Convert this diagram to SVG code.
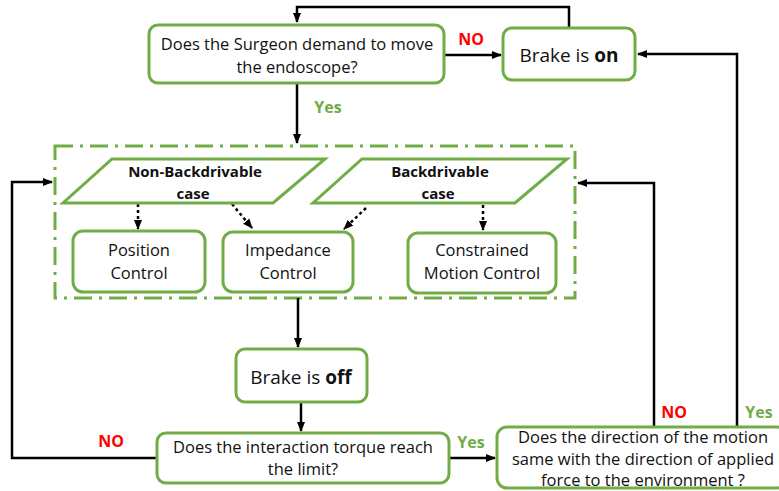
<svg xmlns="http://www.w3.org/2000/svg" width="779" height="491" viewBox="0 0 779 491">
<style>
.box{fill:#fff;stroke:#70AD47;stroke-width:3}
.par{fill:#fff;stroke:#70AD47;stroke-width:3}
.grp{fill:none;stroke:#70AD47;stroke-width:3;stroke-dasharray:18,7,3,7}
.t{font-family:"Open Sans","Liberation Sans",sans-serif;font-size:16.5px;fill:#111;text-anchor:middle}
.tb{font-family:"Open Sans","Liberation Sans",sans-serif;font-size:15px;font-weight:bold;fill:#111;text-anchor:middle}
.big{font-family:"Open Sans","Liberation Sans",sans-serif;font-size:19px;fill:#111;text-anchor:middle}
.no{font-family:"Open Sans","Liberation Sans",sans-serif;font-size:16px;font-weight:bold;fill:#FF0000;text-anchor:middle}
.yes{font-family:"Open Sans","Liberation Sans",sans-serif;font-size:16px;font-weight:bold;fill:#70AD47;text-anchor:middle}
.c{fill:none;stroke:#000;stroke-width:2.5}
.d{fill:none;stroke:#000;stroke-width:2.5;stroke-dasharray:3,3}
</style>
<defs>
<marker id="ah" markerWidth="10" markerHeight="10" refX="9" refY="5" orient="auto" markerUnits="userSpaceOnUse">
<path d="M0,1 L10,5 L0,9 Z" fill="#000"/>
</marker>
</defs>
<g id="group-box"><rect class="grp" x="55" y="146" width="520" height="152"/></g>
<g id="connectors">
<polyline class="c" points="569,28 569,7 297,7 297,22" marker-end="url(#ah)"/>
<line class="c" x1="444" y1="55" x2="501" y2="55" marker-end="url(#ah)"/>
<line class="c" x1="297" y1="83" x2="297" y2="143" marker-end="url(#ah)"/>
<line class="d" x1="138" y1="204" x2="138" y2="229" marker-end="url(#ah)"/>
<line class="d" x1="232" y1="204" x2="252" y2="228" marker-end="url(#ah)"/>
<line class="d" x1="366" y1="208" x2="344" y2="229" marker-end="url(#ah)"/>
<line class="d" x1="483" y1="205" x2="483" y2="230" marker-end="url(#ah)"/>
<line class="c" x1="298" y1="298" x2="298" y2="347" marker-end="url(#ah)"/>
<line class="c" x1="301" y1="402" x2="301" y2="431" marker-end="url(#ah)"/>
<line class="c" x1="449" y1="458" x2="495" y2="458" marker-end="url(#ah)"/>
<polyline class="c" points="157,458 12,458 12,182 52,182" marker-end="url(#ah)"/>
<polyline class="c" points="654,428 654,183 578,183" marker-end="url(#ah)"/>
<polyline class="c" points="737,427 737,54 638,54" marker-end="url(#ah)"/>
<text class="no" x="471" y="45">NO</text>
<text class="yes" x="328" y="113">Yes</text>
<text class="no" x="111" y="447">NO</text>
<text class="yes" x="471" y="448">Yes</text>
<text class="no" x="674" y="418">NO</text>
<text class="yes" x="759" y="418">Yes</text>
</g>
<g id="q-surgeon">
<rect class="box" x="149" y="25" width="295" height="58" rx="9"/>
<text class="t" x="297" y="50">Does the Surgeon demand to move</text>
<text class="t" x="297" y="73">the endoscope?</text>
</g>
<g id="brake-on">
<rect class="box" x="503" y="28" width="132" height="52" rx="9"/>
<text class="big" x="569" y="62">Brake is <tspan font-weight="bold">on</tspan></text>
</g>
<g id="non-backdrivable">
<polygon class="par" points="112,159 325,159 273,203 63,203"/>
<text class="tb" x="195" y="177">Non-Backdrivable</text>
<text class="tb" x="193" y="199">case</text>
</g>
<g id="backdrivable">
<polygon class="par" points="362,159 567,159 515,203 313,203"/>
<text class="tb" x="440" y="177">Backdrivable</text>
<text class="tb" x="438" y="199">case</text>
</g>
<g id="position-control">
<rect class="box" x="73" y="231" width="132" height="61" rx="10"/>
<text class="t" x="139" y="256">Position</text>
<text class="t" x="139" y="279">Control</text>
</g>
<g id="impedance-control">
<rect class="box" x="223" y="232" width="130" height="60" rx="10"/>
<text class="t" x="288" y="256">Impedance</text>
<text class="t" x="288" y="279">Control</text>
</g>
<g id="constrained-motion">
<rect class="box" x="408" y="233" width="148" height="60" rx="10"/>
<text class="t" x="482" y="256">Constrained</text>
<text class="t" x="482" y="279">Motion Control</text>
</g>
<g id="brake-off">
<rect class="box" x="236" y="349" width="131" height="53" rx="9"/>
<text class="big" x="301" y="384">Brake is <tspan font-weight="bold">off</tspan></text>
</g>
<g id="q-torque">
<rect class="box" x="157" y="433" width="292" height="50" rx="9"/>
<text class="t" x="303" y="453">Does the interaction torque reach</text>
<text class="t" x="303" y="475">the limit?</text>
</g>
<g id="q-direction">
<rect class="box" x="497" y="427" width="290" height="61" rx="10"/>
<text class="t" x="643" y="443">Does the direction of the motion</text>
<text class="t" x="643" y="465">same with the direction of applied</text>
<text class="t" x="643" y="486">force to the environment ?</text>
</g>
</svg>
